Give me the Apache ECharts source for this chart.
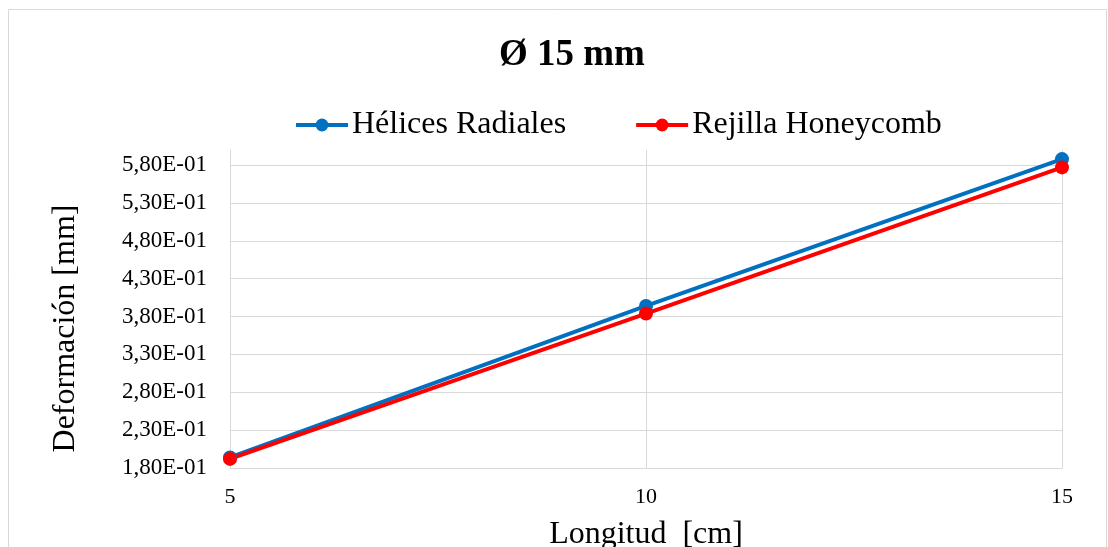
<!DOCTYPE html>
<html>
<head>
<meta charset="utf-8">
<script src="https://cdn.jsdelivr.net/npm/echarts@6/dist/echarts.min.js"></script>
<style>
  html, body { margin: 0; padding: 0; background: #fff; }
  #chart { width: 1108px; height: 547px; }
</style>
</head>
<body>
<div id="chart"></div>
<script>
// Longitudes ensayadas (cm)
const longitudes = ['5', '10', '15'];
// Deformación medida (mm) para cada configuración
const helicesRadiales = [0.194, 0.394, 0.588];
const rejillaHoneycomb = [0.192, 0.384, 0.577];

const serif = 'Liberation Serif';

// Formato científico con coma decimal: 0.58 -> "5,80E-01"
function sci(v) {
  if (v <= 0) return '0,00E+00';
  const e = Math.floor(Math.log10(v) + 1e-9);
  const m = v / Math.pow(10, e);
  const sign = e < 0 ? '-' : '+';
  const ae = Math.abs(e);
  return m.toFixed(2).replace('.', ',') + 'E' + sign + (ae < 10 ? '0' + ae : ae);
}

const chart = echarts.init(document.getElementById('chart'), null, { renderer: 'canvas' });

chart.setOption({
  backgroundColor: '#fff',
  animation: false,
  graphic: [{
    type: 'rect',
    shape: { x: 8.5, y: 9.5, width: 1098, height: 560 },
    style: { fill: 'none', stroke: '#d9d9d9', lineWidth: 1 },
    silent: true
  }],
  title: {
    text: 'Ø 15 mm',
    left: 494,
    top: 32,
    textStyle: { fontFamily: serif, fontSize: 37, fontWeight: 'bold', color: '#000' }
  },
  legend: {
    top: 104,
    left: 289,
    itemWidth: 52,
    itemHeight: 16,
    itemGap: 68,
    lineStyle: { width: 4 },
    textStyle: { fontFamily: serif, fontSize: 32, color: '#000', padding: [0, 0, 0, -1] },
    data: ['Hélices Radiales', 'Rejilla Honeycomb']
  },
  grid: { left: 230, right: 46, top: 150, bottom: 79, containLabel: false, outerBoundsMode: 'none' },
  xAxis: {
    type: 'category',
    data: longitudes,
    boundaryGap: false,
    name: 'Longitud  [cm]',
    nameLocation: 'middle',
    nameGap: 51,
    nameTextStyle: { fontFamily: serif, fontSize: 32, color: '#000' },
    axisLine: { show: true, lineStyle: { color: '#d9d9d9', width: 1 } },
    axisTick: { show: false },
    axisLabel: { fontFamily: serif, fontSize: 22, color: '#000', margin: 18 },
    splitLine: { show: true, lineStyle: { color: '#d9d9d9', width: 1 } }
  },
  yAxis: {
    type: 'value',
    min: 0.18,
    max: 0.6,
    interval: 0.05,
    name: 'Deformación [mm]',
    nameLocation: 'middle',
    nameGap: 148,
    nameTextStyle: { fontFamily: serif, fontSize: 32, color: '#000', padding: [0, 39, 0, 0] },
    axisLine: { show: true, lineStyle: { color: '#d9d9d9', width: 1 } },
    axisTick: { show: false },
    axisLabel: {
      fontFamily: serif, fontSize: 23, color: '#000', margin: 23,
      showMaxLabel: false,
      formatter: function (v) { return sci(v); }
    },
    splitLine: { show: true, showMaxLine: false, lineStyle: { color: '#d9d9d9', width: 1 } }
  },
  series: [
    {
      name: 'Hélices Radiales',
      type: 'line',
      data: helicesRadiales,
      symbol: 'circle',
      symbolSize: 14,
      color: '#0070C0',
      lineStyle: { width: 4, color: '#0070C0' },
      itemStyle: { color: '#0070C0' }
    },
    {
      name: 'Rejilla Honeycomb',
      type: 'line',
      data: rejillaHoneycomb,
      symbol: 'circle',
      symbolSize: 14,
      color: '#FF0000',
      lineStyle: { width: 4, color: '#FF0000' },
      itemStyle: { color: '#FF0000' }
    }
  ]
});
</script>
</body>
</html>
